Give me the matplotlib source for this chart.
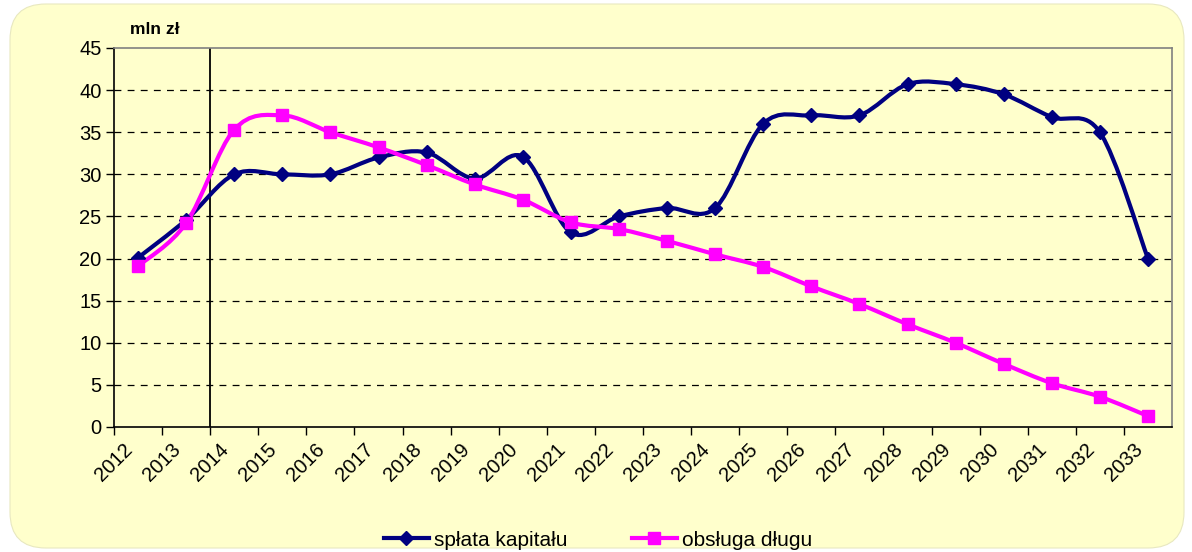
import matplotlib.pyplot as plt
import numpy as np
from matplotlib.path import Path
from matplotlib.patches import PathPatch, FancyBboxPatch
from matplotlib.lines import Line2D

years = [str(y) for y in range(2012, 2034)]
splata_kapitalu = [20.1, 24.6, 30.0, 30.0, 30.0, 32.0, 32.6, 29.5, 32.1, 23.1, 25.0,
                   26.0, 26.0, 36.0, 37.0, 37.0, 40.7, 40.7, 39.5, 36.8, 35.0, 20.0]
obsluga_dlugu = [19.1, 24.2, 35.3, 37.0, 35.0, 33.2, 31.1, 28.8, 27.0, 24.3, 23.5,
                 22.1, 20.5, 19.0, 16.7, 14.6, 12.2, 10.0, 7.5, 5.2, 3.6, 1.3]

BG = '#FFFFCC'
BLUE = '#000080'
PINK = '#FF00FF'


def smooth_path(x, y):
    # Excel-like smoothed line: cubic Bezier segments through the points
    p = np.column_stack([x, y])
    n = len(p)
    verts = [p[0]]
    codes = [Path.MOVETO]
    for i in range(n - 1):
        p0 = p[i - 1] if i > 0 else p[i]
        p3 = p[i + 2] if i + 2 < n else p[i + 1]
        c1 = p[i] + (p[i + 1] - p0) / 6.0
        c2 = p[i + 1] - (p3 - p[i]) / 6.0
        verts += [c1, c2, p[i + 1]]
        codes += [Path.CURVE4] * 3
    return Path(verts, codes)


fig = plt.figure(figsize=(11.92, 5.52), dpi=100)
fig.patch.set_facecolor('white')
fig.patches.append(FancyBboxPatch((10 / 1192, 4 / 552), 1174 / 1192, 544 / 552,
                                  boxstyle='round,pad=0,rounding_size=0.03',
                                  transform=fig.transFigure, facecolor=BG,
                                  edgecolor='#E8E8C0', linewidth=0.8,
                                  mutation_aspect=1192 / 552, zorder=-10))

ax = fig.add_axes([114 / 1192, 125 / 552, 1058 / 1192, 379 / 552])
ax.set_facecolor(BG)

xs = np.arange(len(years)) + 0.5

for vals, col, mk, ms in [(splata_kapitalu, BLUE, 'D', 7),
                          (obsluga_dlugu, PINK, 's', 9)]:
    ax.add_patch(PathPatch(smooth_path(xs, vals), facecolor='none', edgecolor=col,
                           linewidth=3, zorder=3, capstyle='round', joinstyle='round'))
    ax.plot(xs, vals, linestyle='none', marker=mk, markersize=ms, color=col, zorder=4)

ax.axvline(2, color='black', linewidth=1.3, zorder=2)

ax.set_xlim(0, len(years))
ax.set_ylim(0, 45)
ax.set_yticks(range(0, 46, 5))
ax.set_xticks(range(len(years)))
ax.set_xticklabels(years, rotation=45, ha='center', fontsize=14.5,
                   family='Liberation Sans')
ax.tick_params(axis='y', labelsize=14.5, length=6, width=1, direction='out', pad=3)
ax.tick_params(axis='x', length=6, width=1, direction='out', pad=3)
for lab in ax.get_yticklabels():
    lab.set_family('Liberation Sans')

for v in range(5, 45, 5):
    ax.axhline(v, color='black', linewidth=0.9, linestyle=(0, (5.5, 5)), zorder=1)

ax.spines['left'].set_color('black')
ax.spines['bottom'].set_color('black')
ax.spines['top'].set_color('#808080')
ax.spines['right'].set_color('#808080')
for s in ax.spines.values():
    s.set_linewidth(1.2)

fig.text(130 / 1192, 1 - 29 / 552, 'mln zł', fontsize=12.5, fontweight='bold',
         family='Liberation Sans', va='center', ha='left')

handles = [Line2D([], [], color=BLUE, marker='D', markersize=7, linewidth=3),
           Line2D([], [], color=PINK, marker='s', markersize=9, linewidth=3)]
fig.legend(handles, ['spłata kapitału', 'obsługa długu'], loc='center',
           bbox_to_anchor=(598 / 1192, 12 / 552), ncol=2, frameon=False,
           prop={'family': 'Liberation Sans', 'size': 15}, handlelength=2.15,
           handletextpad=0.25, columnspacing=3.1, borderpad=0.1)

fig.savefig('out.png', dpi=100, facecolor=fig.get_facecolor())
